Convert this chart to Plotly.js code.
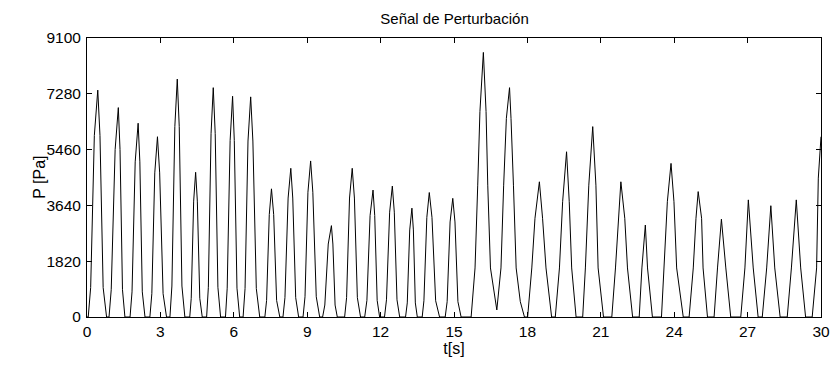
<!DOCTYPE html>
<html>
<head>
<meta charset="utf-8">
<script src="https://cdn.plot.ly/plotly-3.0.1.min.js"></script>
<style>html,body{margin:0;padding:0;background:#fff;}</style>
</head>
<body>
<div id="chart" style="width:834px;height:365px;"></div>
<script>
// Time samples (s)
const tValues = [
  0.00,
  0.05, 0.15, 0.30, 0.44, 0.53, 0.66, 0.80,
  0.90, 0.99, 1.15, 1.28, 1.35, 1.45, 1.55,
  1.76, 1.84, 1.97, 2.09, 2.16, 2.26, 2.37,
  2.57, 2.65, 2.77, 2.88, 2.97, 3.11, 3.25,
  3.39, 3.47, 3.59, 3.69, 3.77, 3.88, 4.00,
  4.20, 4.26, 4.36, 4.44, 4.51, 4.61, 4.71,
  4.89, 4.96, 5.07, 5.16, 5.24, 5.35, 5.46,
  5.66, 5.73, 5.85, 5.95, 6.02, 6.13, 6.24,
  6.38, 6.46, 6.58, 6.69, 6.78, 6.92, 7.06,
  7.27, 7.34, 7.45, 7.54, 7.63, 7.75, 7.88,
  8.01, 8.09, 8.22, 8.33, 8.41, 8.53, 8.65,
  8.83, 8.91, 9.03, 9.14, 9.23, 9.37, 9.51,
  9.63, 9.72, 9.86, 9.99, 10.05, 10.14, 10.23,
  10.53, 10.61, 10.73, 10.84, 10.93, 11.05, 11.18,
  11.35, 11.44, 11.57, 11.69, 11.76, 11.86, 11.96,
  12.16, 12.24, 12.37, 12.48, 12.56, 12.67, 12.78,
  13.02, 13.09, 13.19, 13.28, 13.34, 13.42, 13.50,
  13.70, 13.77, 13.89, 13.99, 14.10, 14.25, 14.41,
  14.64, 14.72, 14.84, 14.95, 15.04, 15.16, 15.29,
  15.70, 15.86, 15.97, 16.06, 16.20, 16.31, 16.38, 16.49, 16.75,
  16.92, 17.03, 17.14, 17.27, 17.33, 17.43, 17.54, 17.71, 17.88,
  18.01, 18.18, 18.31, 18.49, 18.62, 18.76, 18.99,
  19.14, 19.31, 19.44, 19.60, 19.71, 19.81, 19.99,
  20.26, 20.37, 20.51, 20.67, 20.80, 20.89, 21.11,
  21.45, 21.60, 21.71, 21.82, 21.98, 22.09, 22.30,
  22.57, 22.68, 22.82, 22.91, 23.11,
  23.48, 23.59, 23.72, 23.87, 23.99, 24.10, 24.37,
  24.61, 24.78, 24.89, 24.98, 25.12, 25.18, 25.36,
  25.63, 25.77, 25.93, 26.11, 26.31,
  26.72, 26.89, 27.03, 27.23, 27.43,
  27.60, 27.78, 27.95, 28.11, 28.33,
  28.62, 28.79, 28.99, 29.17, 29.37,
  29.64, 29.82, 29.89, 30.00
];
// Pressure samples (Pa)
const pValues = [
  0,
  0, 960, 5920, 7400, 5920, 960, 0,
  0, 890, 5460, 6830, 5460, 890, 0,
  0, 820, 5060, 6320, 5060, 820, 0,
  0, 760, 4700, 5880, 4700, 760, 0,
  0, 1010, 6210, 7760, 6210, 1010, 0,
  0, 610, 3780, 4720, 3780, 610, 0,
  0, 970, 5980, 7480, 5980, 970, 0,
  0, 940, 5760, 7200, 5760, 940, 0,
  0, 930, 5740, 7180, 5740, 930, 0,
  0, 540, 3340, 4180, 3340, 540, 0,
  0, 630, 3880, 4850, 3880, 630, 0,
  0, 660, 4070, 5090, 4070, 660, 0,
  0, 390, 2380, 2980, 2380, 390, 0,
  0, 630, 3880, 4850, 3880, 630, 0,
  0, 540, 3310, 4140, 3310, 540, 0,
  0, 560, 3420, 4270, 3420, 560, 0,
  0, 460, 2840, 3550, 2840, 460, 0,
  0, 530, 3250, 4060, 3250, 530, 0,
  0, 500, 3100, 3870, 3100, 500, 0,
  0, 1600, 4300, 6700, 8630, 6700, 4300, 1600, 230,
  1600, 4300, 6480, 7480, 6480, 4300, 1600, 500, 0,
  0, 1600, 3220, 4410, 3220, 1600, 0,
  0, 1600, 3760, 5390, 3760, 1600, 0,
  0, 1600, 4300, 6210, 4300, 1600, 0,
  0, 1600, 3220, 4410, 3220, 1600, 0,
  0, 1600, 3000, 1600, 0,
  0, 1600, 3760, 5010, 3760, 1600, 0,
  0, 1600, 3220, 4090, 3220, 1600, 0,
  0, 1600, 3190, 1600, 0,
  0, 1600, 3820, 1600, 0,
  0, 1600, 3630, 1600, 0,
  0, 1600, 3820, 1600, 0,
  0, 1600, 4530, 5880
];
const xTickVals = [0, 3, 6, 9, 12, 15, 18, 21, 24, 27, 30];
const yTickVals = [0, 1820, 3640, 5460, 7280, 9100];

const font = {family: '"Liberation Sans", Arial, sans-serif', color: '#000'};

const trace = {
  x: tValues, y: pValues, type: 'scatter', mode: 'lines',
  line: {color: '#000', width: 1}, hoverinfo: 'none', showlegend: false
};

const axisCommon = {
  showgrid: false, zeroline: false, showline: true, linecolor: '#000', linewidth: 1,
  mirror: 'ticks', ticks: 'inside', ticklen: 5, tickcolor: '#000', tickwidth: 1,
  tickfont: Object.assign({size: 15.5}, font)
};

const layout = {
  width: 834, height: 365,
  margin: {l: 87, r: 13, t: 38, b: 48},
  paper_bgcolor: '#fff', plot_bgcolor: '#fff',
  title: {text: 'Señal de Perturbación', font: Object.assign({size: 15}, font), x: 0.545, xanchor: 'center', y: 0.95, yanchor: 'middle'},
  xaxis: Object.assign({}, axisCommon, {
    range: [0, 30], tickvals: xTickVals, ticktext: xTickVals.map(String),
    ticklabelstandoff: 0,
    title: {text: 't[s]', font: Object.assign({size: 16}, font), standoff: 4}
  }),
  yaxis: Object.assign({}, axisCommon, {
    range: [0, 9100], tickvals: yTickVals, ticktext: yTickVals.map(String),
    ticklabelstandoff: 2
  }),
  annotations: [{
    text: 'P [Pa]', xref: 'paper', yref: 'paper', x: -0.065, y: 0.5,
    xanchor: 'center', yanchor: 'middle', textangle: -90, showarrow: false,
    font: Object.assign({size: 16}, font)
  }]
};

Plotly.newPlot('chart', [trace], layout, {staticPlot: true, displayModeBar: false});
</script>
</body>
</html>
